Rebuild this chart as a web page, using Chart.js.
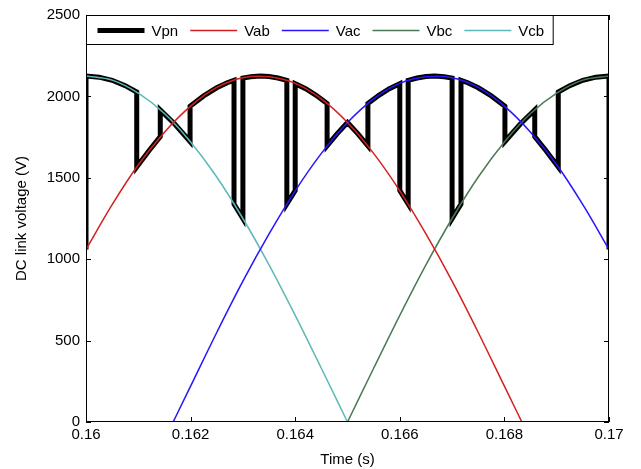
<!DOCTYPE html>
<html>
<head>
<meta charset="utf-8">
<title>DC link voltage</title>
<script src="https://cdn.jsdelivr.net/npm/chart.js@4.4.0/dist/chart.umd.min.js"></script>
<style>
  html, body { margin: 0; padding: 0; background: #fff; }
  canvas { display: block; }
</style>
</head>
<body>
<canvas id="dcChart" width="641" height="469"></canvas>
<script>
// Sample times (s) for the line-to-line voltages
const timeAxis = [0.16, 0.1605, 0.161, 0.1615, 0.162, 0.1625, 0.163, 0.1635, 0.164, 0.1645, 0.165,
                  0.1655, 0.166, 0.1665, 0.167, 0.1675, 0.168, 0.1685, 0.169, 0.1695, 0.17];

// Line-to-line voltages (V)
const vab = [1060, 1335, 1580, 1780, 1940, 2055, 2115, 2120, 2080, 1985, 1840,
             1650, 1420, 1155, 865, 550, 220, -110, -440, -760, -1060];
const vac = [-1060, -760, -440, -110, 220, 550, 865, 1155, 1420, 1650, 1840,
             1985, 2080, 2120, 2115, 2055, 1940, 1780, 1580, 1335, 1060];
const vbc = [-2125, -2100, -2020, -1895, -1720, -1505, -1250, -965, -655, -330, 0,
             330, 655, 965, 1250, 1505, 1720, 1895, 2020, 2100, 2125];
const vcb = [2125, 2100, 2020, 1895, 1720, 1505, 1250, 965, 655, 330, 0,
             -330, -655, -965, -1250, -1505, -1720, -1895, -2020, -2100, -2125];

// DC link voltage Vpn: switching instants repeat the time with the new level
const vpnTime = [0.16, 0.16, 0.16025, 0.1605, 0.16075, 0.16097,
                 0.16097, 0.1612, 0.16142,
                 0.16142, 0.1617, 0.16199,
                 0.16199, 0.16225, 0.1625, 0.1627, 0.16283,
                 0.16283, 0.163,
                 0.163, 0.16315, 0.16333, 0.1635, 0.16367, 0.16384,
                 0.16384, 0.164,
                 0.164, 0.1642, 0.1644, 0.16461,
                 0.16461, 0.1648, 0.165, 0.1652, 0.16539,
                 0.16539, 0.1656, 0.1658, 0.166,
                 0.166, 0.16616,
                 0.16616, 0.16633, 0.1665, 0.16667, 0.16685, 0.167,
                 0.167, 0.16717,
                 0.16717, 0.1673, 0.1675, 0.16775, 0.16801,
                 0.16801, 0.1683, 0.16858,
                 0.16858, 0.1688, 0.16903,
                 0.16903, 0.16925, 0.1695, 0.16975, 0.17, 0.17];
const vpnVolts = [1060, 2125, 2118, 2099, 2066, 2027,
                  1566, 1665, 1753,
                  1917, 1829, 1723,
                  1939, 2003, 2053, 2084, 2099,
                  1339, 1249,
                  2113, 2121, 2125, 2122, 2113, 2098,
                  1339, 1422,
                  2078, 2047, 2007, 1956,
                  1696, 1770, 1840, 1770, 1696,
                  1956, 2007, 2047, 2078,
                  1422, 1339,
                  2098, 2113, 2122, 2125, 2121, 2113,
                  1249, 1339,
                  2099, 2084, 2053, 2003, 1939,
                  1723, 1829, 1917,
                  1753, 1665, 1566,
                  2027, 2066, 2099, 2118, 2125, 1060];

const seriesNames = ['Vpn', 'Vab', 'Vac', 'Vbc', 'Vcb'];
const seriesColors = ['#000000', '#d42020', '#2814ff', '#4a7a55', '#5fb8b8'];

const xTickValues = [0.16, 0.162, 0.164, 0.166, 0.168, 0.17];
const xTickLabels = ['0.16', '0.162', '0.164', '0.166', '0.168', '0.17'];
const yTickValues = [0, 500, 1000, 1500, 2000, 2500];
const yTickLabels = ['0', '500', '1000', '1500', '2000', '2500'];

const FONT = '"Liberation Sans", Arial, Helvetica, sans-serif';

function toPoints(xs, ys) {
    return xs.map(function(x, i) { return { x: x, y: ys[i] }; });
}

// Box round the axes, inward ticks on all sides, and the legend inside the top edge
const framePlugin = {
    id: 'frame',
    afterDatasetsDraw(chart) {
        const ctx = chart.ctx;
        const a = chart.chartArea;
        const xs = chart.scales.x;
        const ys = chart.scales.y;
        const tick = 5;

        ctx.save();
        ctx.strokeStyle = '#000';
        ctx.lineWidth = 1;
        ctx.beginPath();
        xTickValues.forEach(function(v) {
            const px = Math.round(xs.getPixelForValue(v)) + 0.5;
            ctx.moveTo(px, a.bottom);
            ctx.lineTo(px, a.bottom - tick);
            ctx.moveTo(px, a.top);
            ctx.lineTo(px, a.top + tick);
        });
        yTickValues.forEach(function(v) {
            const py = Math.round(ys.getPixelForValue(v)) + 0.5;
            ctx.moveTo(a.left, py);
            ctx.lineTo(a.left + tick, py);
            ctx.moveTo(a.right, py);
            ctx.lineTo(a.right - tick, py);
        });
        ctx.stroke();
        ctx.strokeRect(Math.round(a.left) + 0.5, Math.round(a.top) + 0.5,
                       Math.round(a.right - a.left) - 1, Math.round(a.bottom - a.top) - 1);

        // legend
        ctx.font = '15px ' + FONT;
        const lineLen = 47, textGap = 7, itemGap = 12, padL = 11, padR = 9;
        const boxH = 29;
        const datasets = chart.data.datasets;
        let total = padL;
        datasets.forEach(function(ds, i) {
            total += lineLen + textGap + ctx.measureText(ds.label).width;
            if (i < datasets.length - 1) total += itemGap;
        });
        total += padR;

        const bx = Math.round(a.left) + 0.5;
        const by = Math.round(a.top) + 0.5;
        ctx.fillStyle = '#fff';
        ctx.fillRect(bx, by, total, boxH);
        ctx.strokeStyle = '#000';
        ctx.lineWidth = 1;
        ctx.strokeRect(bx, by, total, boxH);

        let x = bx + padL;
        const midY = by + 15;
        datasets.forEach(function(ds) {
            ctx.strokeStyle = ds.borderColor;
            ctx.lineWidth = ds.borderWidth;
            ctx.lineCap = 'butt';
            ctx.beginPath();
            ctx.moveTo(x, midY);
            ctx.lineTo(x + lineLen, midY);
            ctx.stroke();
            ctx.fillStyle = '#000';
            ctx.textBaseline = 'middle';
            ctx.textAlign = 'left';
            ctx.fillText(ds.label, x + lineLen + textGap, midY + 1);
            x += lineLen + textGap + ctx.measureText(ds.label).width + itemGap;
        });
        ctx.restore();
    }
};

document.addEventListener('DOMContentLoaded', function() {
    Chart.defaults.color = '#000';
    Chart.defaults.font.family = FONT;
    Chart.defaults.font.size = 15;

    const lineSeries = [vab, vac, vbc, vcb];
    const datasets = [{
        label: seriesNames[0],
        data: toPoints(vpnTime, vpnVolts),
        borderColor: seriesColors[0],
        borderWidth: 5,
        borderJoinStyle: 'miter',
        tension: 0,
        order: 1
    }];
    lineSeries.forEach(function(values, i) {
        datasets.push({
            label: seriesNames[i + 1],
            data: toPoints(timeAxis, values),
            borderColor: seriesColors[i + 1],
            borderWidth: 1.5,
            tension: 0.33,
            order: 0
        });
    });

    new Chart(document.getElementById('dcChart'), {
        type: 'line',
        data: { datasets: datasets },
        options: {
            responsive: false,
            animation: false,
            events: [],
            layout: { padding: { top: 15, right: 32, left: 0, bottom: 0 } },
            elements: { point: { radius: 0 } },
            plugins: {
                legend: { display: false },
                tooltip: { enabled: false }
            },
            scales: {
                x: {
                    type: 'linear',
                    min: 0.16,
                    max: 0.17,
                    grid: { display: false, drawTicks: false },
                    border: { display: false },
                    afterBuildTicks: function(scale) {
                        scale.ticks = xTickValues.map(function(v) { return { value: v }; });
                    },
                    afterFit: function(scale) { scale.height = 47; },
                    ticks: {
                        padding: 4,
                        maxRotation: 0,
                        autoSkip: false,
                        callback: function(value, index) { return xTickLabels[index]; }
                    },
                    title: { display: true, text: 'Time (s)', padding: { top: 0, bottom: 0 } }
                },
                y: {
                    min: 0,
                    max: 2500,
                    grid: { display: false, drawTicks: false },
                    border: { display: false },
                    afterBuildTicks: function(scale) {
                        scale.ticks = yTickValues.map(function(v) { return { value: v }; });
                    },
                    afterFit: function(scale) { scale.width = 86; },
                    ticks: {
                        padding: 6,
                        autoSkip: false,
                        callback: function(value, index) { return yTickLabels[index]; }
                    },
                    title: { display: true, text: 'DC link voltage (V)', padding: { top: 13, bottom: 0 } }
                }
            }
        },
        plugins: [framePlugin]
    });
});
</script>
</body>
</html>
